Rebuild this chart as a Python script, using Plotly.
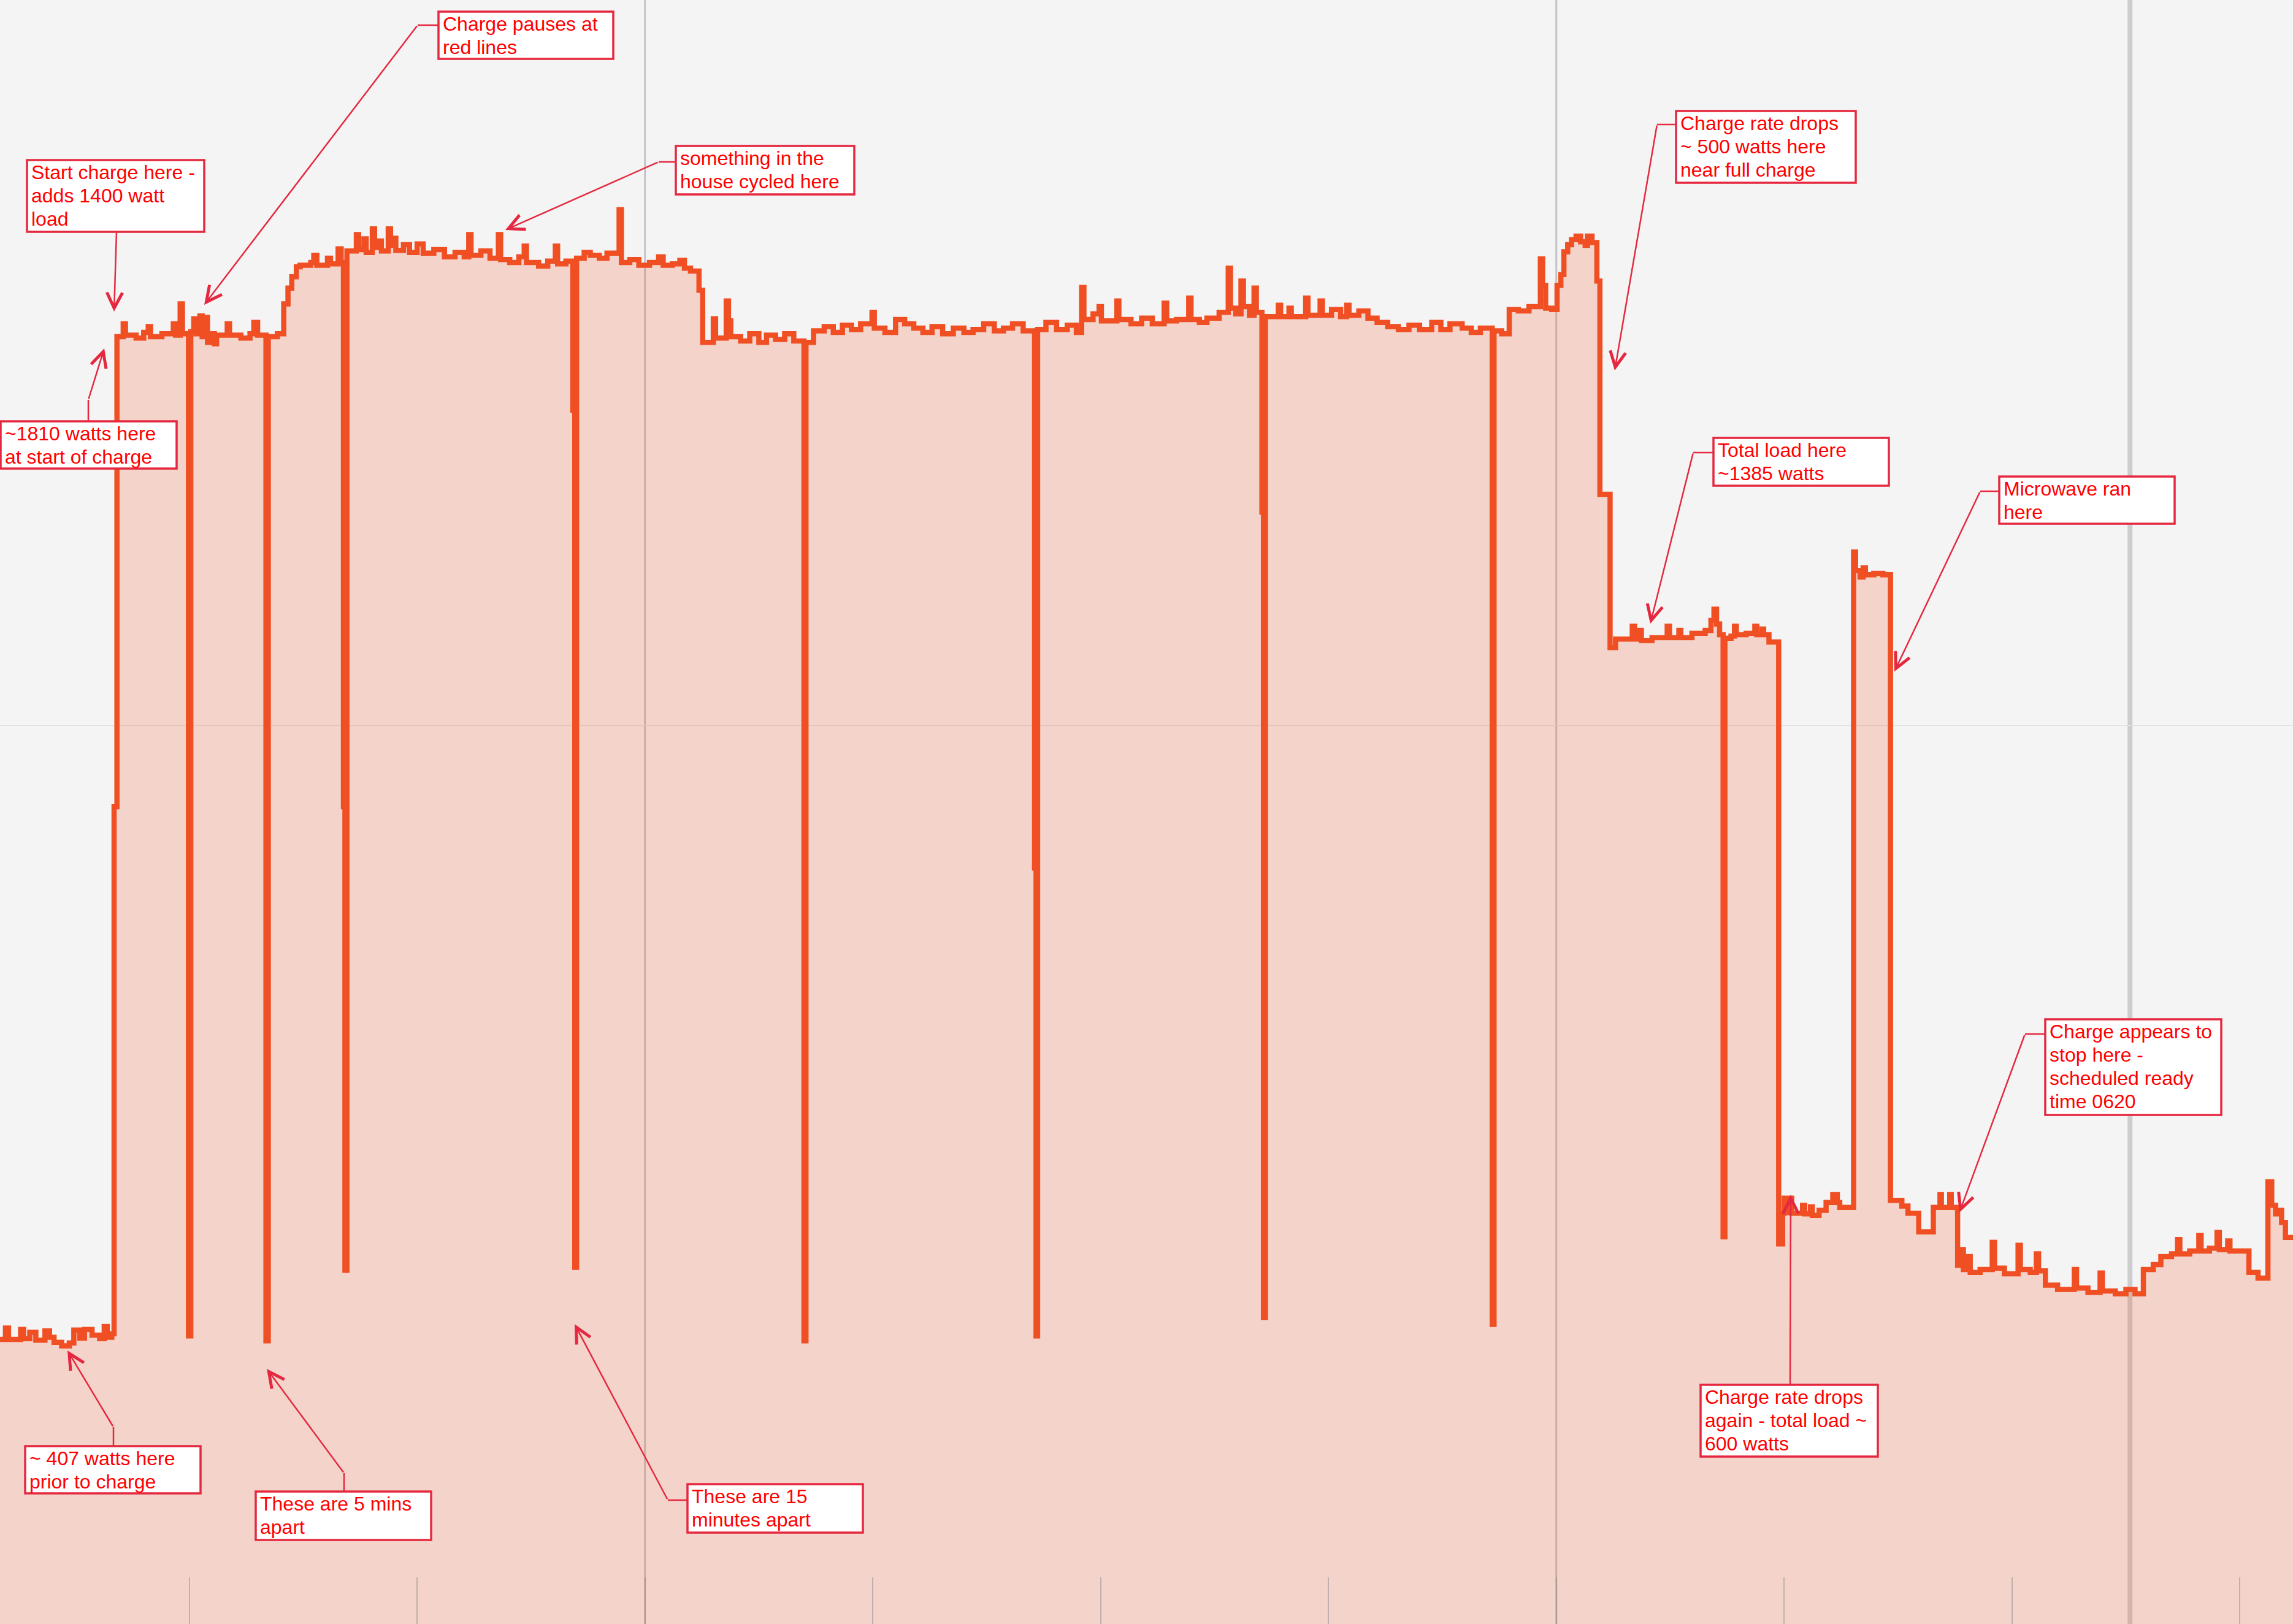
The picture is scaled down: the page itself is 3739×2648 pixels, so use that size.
import plotly.graph_objects as go

# ---------------- data: minutes relative to 05:00, total household load (W) ----------------
pre_t = [-42.46, -42.1, -41.9, -41.1, -40.9, -40.5, -40.1, -39.5, -39.2, -38.9, -38.4, -37.9, -37.6, -37.2, -36.9, -36.4, -35.9, -35.6, -35.4, -35.1]
pre_w = [402, 418, 402, 416, 403, 412, 401, 414, 405, 398, 393, 397, 415, 404, 416, 408, 403, 420, 405, 410]

start_t = [-34.95, -34.76, -34.35, -34.2, -33.5, -33.0, -32.7, -32.55, -31.8, -31.05, -30.9, -30.6, -30.45, -30.05, -29.9, -29.7, -29.55, -29.3, -29.15, -28.95, -28.8, -28.5, -28.35, -28.2, -27.5, -27.35, -26.6, -26.0, -25.75, -25.5, -24.95, -24.8, -24.2]
start_w = [1149, 1808, 1826, 1810, 1806, 1814, 1822, 1808, 1812, 1826, 1810, 1854, 1812, 407, 1815, 1833, 1812, 1837, 1808, 1835, 1800, 1812, 1798, 1810, 1826, 1810, 1806, 1812, 1828, 1810, 400, 1808, 1812]

ramp_t = [-23.78, -23.5, -23.25, -22.95, -22.7, -22.0, -21.8, -21.6, -20.9, -20.7, -20.2, -20.0, -19.85, -19.75, -19.62]
ramp_w = [1854, 1876, 1892, 1906, 1908, 1912, 1922, 1908, 1918, 1910, 1931, 1912, 1149, 499, 1928]

high_t = [-19.0, -18.85, -18.5, -18.35, -17.95, -17.8, -17.5, -17.35, -16.9, -16.75, -16.55, -16.4, -15.9, -15.5, -15.0, -14.6, -13.9, -13.2, -12.5, -11.9, -11.6, -11.45, -10.8, -10.2, -9.65, -9.5, -8.9, -8.3, -7.95, -7.8, -7.0, -6.4, -5.9, -5.75, -5.2, -4.75, -4.62, -4.5, -4.0, -3.6, -3.0, -2.5, -1.7, -1.55, -1.0, -0.4, 0.3, 0.9, 1.2, 1.8, 2.3, 2.6, 3.0, 3.56]
high_w = [1951, 1930, 1945, 1926, 1959, 1933, 1942, 1928, 1959, 1936, 1946, 1929, 1937, 1926, 1938, 1925, 1930, 1920, 1926, 1920, 1951, 1922, 1928, 1918, 1951, 1916, 1912, 1920, 1935, 1912, 1907, 1914, 1935, 1910, 1914, 1705, 503, 1918, 1926, 1922, 1918, 1925, 1986, 1912, 1916, 1908, 1912, 1920, 1908, 1910, 1915, 1904, 1900, 1873]

mid1_t = [3.8, 4.5, 4.65, 5.35, 5.5, 5.65, 6.3, 6.9, 7.5, 8.0, 8.6, 9.2, 9.8, 10.47, 10.6, 11.1, 11.8, 12.4, 13.0, 13.6, 14.2, 14.95, 15.1, 15.8, 16.5, 17.1, 17.7, 18.3, 18.9, 19.6, 20.3, 21.0, 21.6, 22.3, 23.0, 23.6, 24.2, 24.9, 25.65, 25.75, 25.85, 26.4, 27.1, 27.8, 28.4, 28.75, 28.9]
mid1_w = [1800, 1833, 1806, 1858, 1830, 1808, 1802, 1812, 1800, 1810, 1804, 1812, 1802, 400, 1800, 1816, 1822, 1814, 1824, 1818, 1826, 1842, 1820, 1814, 1832, 1826, 1820, 1814, 1822, 1812, 1820, 1814, 1818, 1826, 1816, 1820, 1826, 1816, 1063, 407, 1818, 1828, 1818, 1824, 1814, 1877, 1832]

mid2_t = [29.5, 29.9, 30.05, 31.07, 31.2, 32.0, 32.7, 33.4, 34.18, 34.35, 35.0, 35.8, 35.95, 36.5, 37.0, 37.8, 38.4, 38.55, 38.9, 39.24, 39.4, 39.8, 40.1, 40.25, 40.62, 40.72, 40.85]
mid2_w = [1840, 1850, 1830, 1858, 1832, 1826, 1834, 1826, 1855, 1830, 1832, 1862, 1832, 1828, 1834, 1842, 1904, 1848, 1840, 1886, 1850, 1838, 1876, 1842, 1562, 433, 1836]

mid3_t = [41.7, 41.85, 42.4, 42.55, 43.5, 43.65, 44.45, 44.6, 45.2, 45.8, 46.2, 46.35, 47.0, 47.6, 48.2, 48.9, 49.6, 50.3, 51.0, 51.8, 52.4, 53.0, 53.8, 54.4, 55.0, 55.78, 55.9, 56.4, 56.9, 57.5, 58.2, 58.95, 59.1, 59.3, 59.7]
mid3_w = [1852, 1836, 1848, 1836, 1862, 1838, 1858, 1838, 1846, 1836, 1852, 1838, 1844, 1834, 1828, 1822, 1818, 1824, 1818, 1828, 1818, 1826, 1820, 1814, 1820, 423, 1816, 1812, 1846, 1844, 1850, 1917, 1880, 1848, 1846]

peak_t = [60.05, 60.3, 60.5, 60.75, 61.0, 61.3, 61.6, 61.9, 62.05, 62.35, 62.67, 62.87]
peak_w = [1880, 1895, 1927, 1937, 1944, 1949, 1941, 1936, 1949, 1940, 1886, 1587]

taper_t = [63.54, 63.9, 65.0, 65.15, 65.47, 65.6, 66.3, 67.3, 67.45, 68.07, 68.2, 68.93, 69.8, 70.18, 70.38, 70.55, 70.75, 70.98, 71.1, 71.5, 71.73, 71.85, 72.5, 73.07, 73.2, 73.55, 73.65, 74.0]
taper_w = [1372, 1384, 1402, 1384, 1396, 1382, 1386, 1402, 1386, 1396, 1386, 1392, 1396, 1410, 1426, 1405, 1390, 546, 1385, 1388, 1402, 1390, 1392, 1402, 1390, 1398, 1390, 1380]

low_t = [74.64, 74.9, 75.0, 75.1, 75.38, 75.5, 76.21, 76.35, 76.73, 76.85, 77.3, 77.76, 78.2, 78.5, 78.66, 79.57, 79.7, 80.0, 80.2, 80.35, 80.9, 81.5, 82.0, 82.75, 83.15, 83.86, 84.82, 85.26, 85.35, 85.9, 86.0]
low_w = [536, 579, 600, 580, 600, 579, 590, 578, 588, 576, 583, 594, 605, 594, 587, 1506, 1480, 1471, 1484, 1474, 1476, 1474, 597, 589, 579, 553, 587, 605, 587, 605, 587]

end_t = [86.42, 86.65, 86.8, 87.1, 87.25, 87.9, 88.7, 88.85, 89.5, 90.4, 90.55, 91.2, 91.6, 91.75, 92.2, 93.0, 94.1, 94.25, 95.0, 95.8, 95.95, 96.8, 97.5, 98.1, 98.65, 99.3, 99.8, 100.5, 100.9, 101.05, 101.7, 102.3, 102.45, 103.0, 103.5, 103.65, 104.2, 104.35, 105.6, 106.2, 106.85, 107.1, 107.35, 107.6, 107.75, 108.0, 108.5]
end_w = [506, 528, 500, 518, 496, 500, 538, 502, 494, 534, 500, 496, 522, 498, 478, 472, 500, 474, 468, 495, 470, 466, 472, 466, 500, 507, 518, 522, 542, 522, 526, 548, 526, 530, 552, 528, 540, 526, 496, 488, 623, 590, 578, 583, 566, 545, 545]

minutes = pre_t + start_t + ramp_t + high_t + mid1_t + mid2_t + mid3_t + peak_t + taper_t + low_t + end_t
watts = pre_w + start_w + ramp_w + high_w + mid1_w + mid2_w + mid3_w + peak_w + taper_w + low_w + end_w
assert len(minutes) == len(watts)

hour_lines = [0, 60]
marker_lines = [97.77]
grid_watts = [1263]

# ---------------- layout constants ----------------
W_PX, H_PX = 3739, 2648
X_RANGE = [-42.46, 108.5]
Y_RANGE = [3, 2280]
LINE_COLOR = "#f04e23"
NOTE_RED = "#ff0000"
NOTE_BORDER = "#e5283f"
FONT = "Liberation Sans, Arial, sans-serif"
FONT_SIZE = 32
LINE_PITCH = 38

notes = [
    dict(lines=["Start charge here -", "adds 1400 watt", "load"], box=(44, 261, 333, 378),
         elbow=None, tail=(190, 378), tip=(186, 508)),
    dict(lines=["Charge pauses at", "red lines"], box=(715, 19, 1000, 96),
         elbow=[(715, 41), (681, 41)], tail=(681, 41), tip=(333, 497)),
    dict(lines=["something in the", "house cycled here"], box=(1102, 238, 1393, 317),
         elbow=[(1102, 264), (1074, 264)], tail=(1074, 264), tip=(824, 375)),
    dict(lines=["~1810 watts here", "at start of charge"], box=(1, 687, 288, 764),
         elbow=[(144, 687), (144, 652)], tail=(144, 652), tip=(170, 568)),
    dict(lines=["~ 407 watts here", "prior to charge"], box=(41, 2358, 327, 2435),
         elbow=[(185, 2358), (185, 2327)], tail=(185, 2327), tip=(110, 2202)),
    dict(lines=["These are 5 mins", "apart"], box=(417, 2432, 703, 2511),
         elbow=[(561, 2432), (561, 2402)], tail=(561, 2402), tip=(435, 2232)),
    dict(lines=["These are 15", "minutes apart"], box=(1121, 2420, 1407, 2499),
         elbow=[(1121, 2446), (1089, 2446)], tail=(1089, 2446), tip=(937, 2159)),
    dict(lines=["Charge rate drops", "~ 500 watts here", "near full charge"], box=(2733, 181, 3026, 298),
         elbow=[(2733, 203), (2702, 203)], tail=(2702, 203), tip=(2633, 604)),
    dict(lines=["Total load here", "~1385 watts"], box=(2794, 714, 3080, 792),
         elbow=[(2794, 738), (2761, 738)], tail=(2761, 738), tip=(2691, 1017)),
    dict(lines=["Microwave ran", "here"], box=(3260, 777, 3546, 854),
         elbow=[(3260, 801), (3229, 801)], tail=(3229, 801), tip=(3089, 1095)),
    dict(lines=["Charge appears to", "stop here -", "scheduled ready", "time 0620"], box=(3335, 1662, 3622, 1818),
         elbow=[(3335, 1686), (3302, 1686)], tail=(3302, 1686), tip=(3195, 1977)),
    dict(lines=["Charge rate drops", "again - total load ~", "600 watts"], box=(2773, 2258, 3062, 2375),
         elbow=None, tail=(2919, 2258), tip=(2920, 1948)),
]


def px(x):
    return x / W_PX


def py(y):
    return 1 - y / H_PX


fig = go.Figure()
fig.add_trace(go.Scatter(
    x=minutes, y=watts, mode="lines", line=dict(shape="hv", color=LINE_COLOR, width=8.5),
    fill="tozeroy", fillcolor="rgba(240,78,35,0.2)", hoverinfo="skip", showlegend=False,
))

shapes = []
for h in hour_lines:
    shapes.append(dict(type="line", xref="x", yref="paper", x0=h, x1=h, y0=0, y1=1,
                       layer="below", line=dict(color="#c3c3c3", width=3)))
for m in marker_lines:
    shapes.append(dict(type="line", xref="x", yref="paper", x0=m, x1=m, y0=0, y1=1,
                       layer="below", line=dict(color="#cdcdcd", width=8)))

annotations = []
for n in notes:
    l, t, r, b = n["box"]
    shapes.append(dict(type="rect", xref="paper", yref="paper", x0=px(l), x1=px(r), y0=py(b), y1=py(t),
                       layer="above", fillcolor="white", line=dict(color=NOTE_BORDER, width=3.5)))
    for i, txt in enumerate(n["lines"]):
        annotations.append(dict(xref="paper", yref="paper", x=px(l + 5), y=py(t + 20 + LINE_PITCH * i),
                                xanchor="left", yanchor="middle", showarrow=False, text=txt,
                                font=dict(family=FONT, size=FONT_SIZE, color=NOTE_RED)))
    if n["elbow"]:
        (x0, y0), (x1, y1) = n["elbow"]
        shapes.append(dict(type="line", xref="paper", yref="paper", x0=px(x0), y0=py(y0), x1=px(x1), y1=py(y1),
                           layer="above", line=dict(color=NOTE_BORDER, width=2.5)))
    tx, ty = n["tail"]
    hx, hy = n["tip"]
    annotations.append(dict(xref="paper", yref="paper", x=px(hx), y=py(hy), ax=tx - hx, ay=ty - hy,
                            axref="pixel", ayref="pixel", text="", showarrow=True, arrowhead=5,
                            arrowsize=2.0, arrowwidth=2.5, arrowcolor=NOTE_BORDER, standoff=0))

fig.update_layout(
    width=W_PX, height=H_PX, autosize=False,
    margin=dict(l=0, r=0, t=0, b=0, pad=0),
    paper_bgcolor="#f4f4f4", plot_bgcolor="#f4f4f4",
    shapes=shapes, annotations=annotations, showlegend=False,
    xaxis=dict(range=X_RANGE, showgrid=False, zeroline=False, showline=False, showticklabels=False,
               ticks="inside", tickmode="linear", tick0=0, dtick=15, ticklen=76, tickwidth=2,
               tickcolor="rgba(130,130,130,0.45)"),
    yaxis=dict(range=Y_RANGE, showgrid=True, gridcolor="#e2e2e2", gridwidth=2, tickmode="array",
               tickvals=grid_watts, showticklabels=False, zeroline=False, showline=False, ticks=""),
)

fig.write_html("out.html", config={"displayModeBar": False},
               post_script="document.body.style.margin='0';document.body.style.overflow='hidden';")
